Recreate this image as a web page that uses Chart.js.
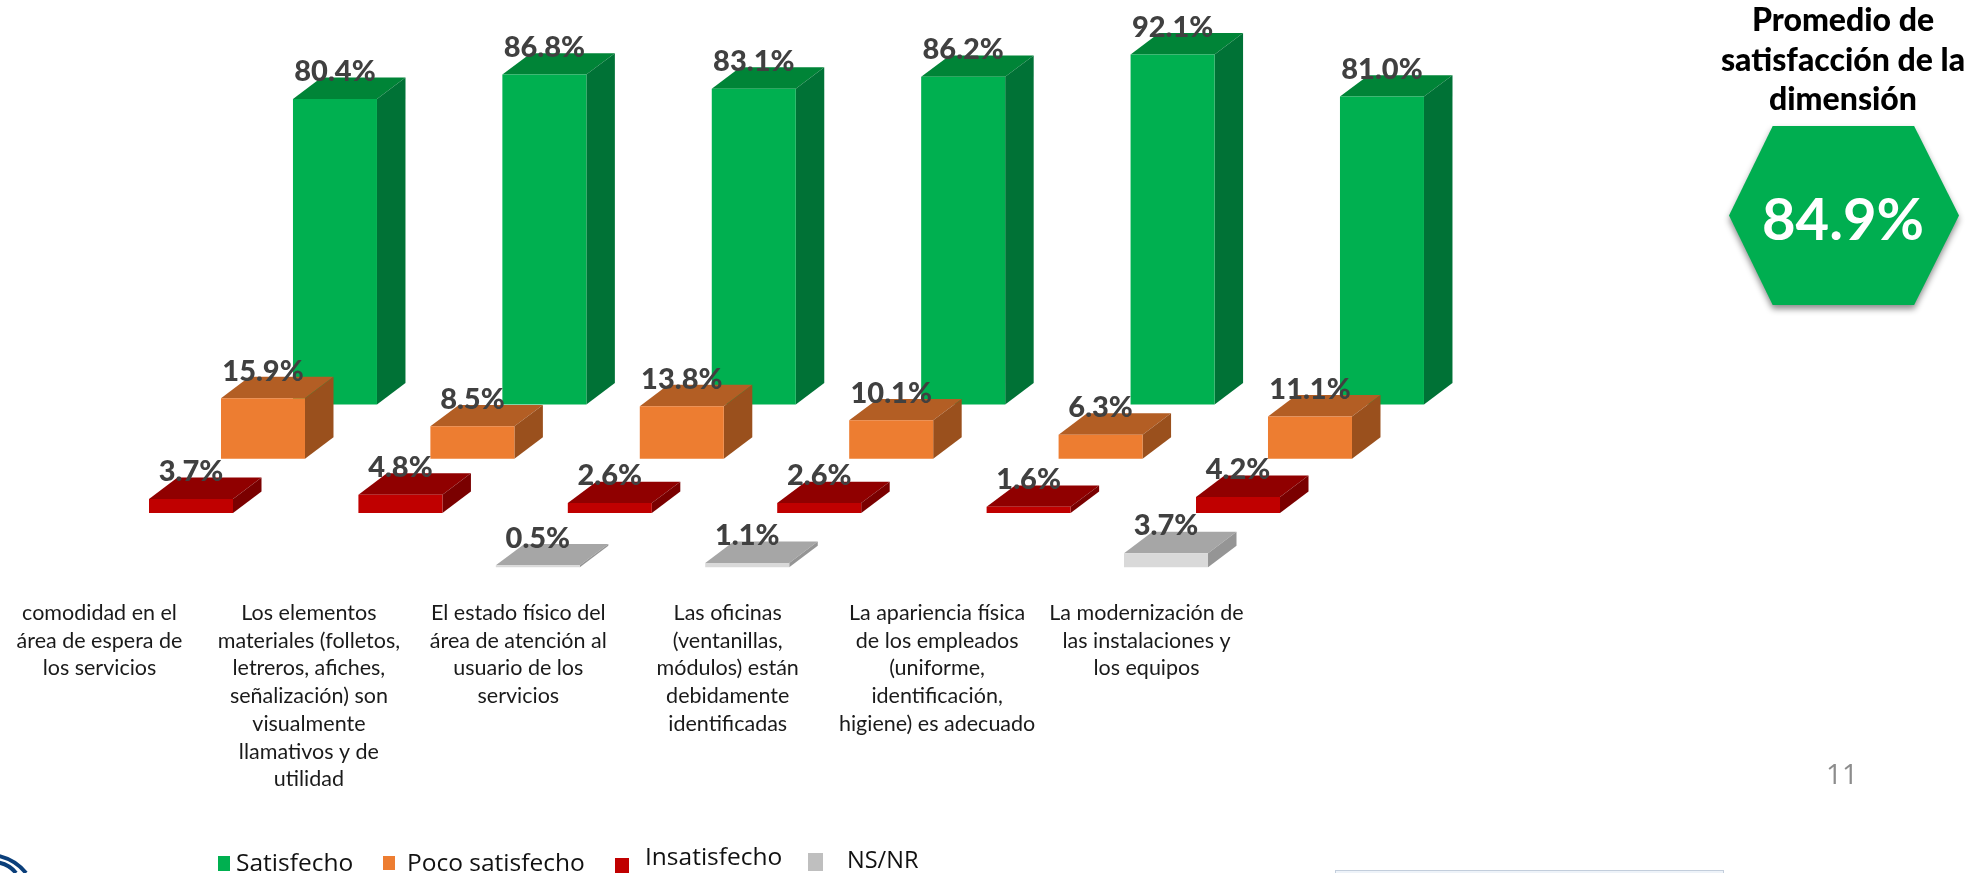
<!DOCTYPE html>
<html lang="es">
<head>
<meta charset="utf-8">
<title>Satisfacción de la dimensión</title>
<script src="https://cdn.jsdelivr.net/npm/chart.js@4/dist/chart.umd.min.js"></script>
<style>
    html, body { margin: 0; padding: 0; background: #fff; }
    #page { position: relative; width: 1974px; height: 873px; overflow: hidden; font-family: Lato, sans-serif; }
    #chart { position: absolute; left: 0; top: 0; }
    .swatch { position: absolute; }
    .legend-text { position: absolute; white-space: nowrap; font-family: "Open Sans", sans-serif; font-size: 24.5px; line-height: 26px; color: #111; }
    #panelTitle { position: absolute; left: 1693px; top: -1px; width: 300px; text-align: center; font: 900 32px/39.5px Lato, sans-serif; color: #000; }
    #hexWrap { position: absolute; left: 1729px; top: 126px; width: 230px; height: 179px; filter: drop-shadow(0 4px 3px rgba(0,0,0,0.45)); }
    #hex { width: 230px; height: 179px; background: #00ae50; clip-path: polygon(0 50%, 19% 0, 80.5% 0, 100% 50%, 80.5% 100%, 19% 100%); }
    #hexValue { position: absolute; left: 0; width: 228px; top: 2px; height: 179px; text-align: center; font: 700 58px/179px Lato, sans-serif; color: #fff; }
    #pageNum { position: absolute; left: 1822px; top: 755px; width: 40px; text-align: center; font: 400 28px/36px "Open Sans", sans-serif; color: #8c8c8c; }
    #footerBox { position: absolute; left: 1335px; top: 870px; width: 387px; height: 6px; background: #eef3f9; border: 1px solid #c3cedc; }
    #logo { position: absolute; left: 0; top: 840px; }
</style>
</head>
<body>
<div id="page">
    <canvas id="chart" width="1974" height="873"></canvas>

    <div id="panelTitle">Promedio de<br>satisfacción de la<br>dimensión</div>
    <div id="hexWrap"><div id="hex"></div><div id="hexValue">84.9%</div></div>

    <div id="pageNum">11</div>

    <div class="swatch" style="left:218px;top:856px;width:12px;height:15px;background:#00b050"></div>
    <div class="legend-text" style="left:236px;top:849px">Satisfecho</div>
    <div class="swatch" style="left:383px;top:856px;width:12px;height:14px;background:#ed7d31"></div>
    <div class="legend-text" style="left:407px;top:849px">Poco satisfecho</div>
    <div class="swatch" style="left:615px;top:858px;width:14px;height:15px;background:#c00000"></div>
    <div class="legend-text" style="left:645px;top:843px">Insatisfecho</div>
    <div class="swatch" style="left:808px;top:853px;width:15px;height:18px;background:#bfbfbf"></div>
    <div class="legend-text" style="left:847px;top:846px;font-size:23.5px">NS/NR</div>

    <div id="footerBox"></div>
    <svg id="logo" width="50" height="33" viewBox="0 0 50 33">
        <path d="M-6 15 Q14 18 26 33" fill="none" stroke="#0b3f7a" stroke-width="4"/>
        <path d="M-6 22 Q8 23 16 33" fill="none" stroke="#0b3f7a" stroke-width="4"/>
    </svg>
</div>

<script>
// Categories of the survey questions (wrapped the way they appear under the bars)
const categories = [
    ['comodidad en el', 'área de espera de', 'los servicios'],
    ['Los elementos', 'materiales (folletos,', 'letreros, afiches,', 'señalización) son', 'visualmente', 'llamativos y de', 'utilidad'],
    ['El estado físico del', 'área de atención al', 'usuario de los', 'servicios'],
    ['Las oficinas', '(ventanillas,', 'módulos) están', 'debidamente', 'identificadas'],
    ['La apariencia física', 'de los empleados', '(uniforme,', 'identificación,', 'higiene) es adecuado'],
    ['La modernización de', 'las instalaciones y', 'los equipos']
];

// Percentages per answer
const satisfecho = [80.4, 86.8, 83.1, 86.2, 92.1, 81.0];
const pocoSatisfecho = [15.9, 8.5, 13.8, 10.1, 6.3, 11.1];
const insatisfecho = [3.7, 4.8, 2.6, 2.6, 1.6, 4.2];
const nsNr = [null, null, 0.5, 1.1, null, 3.7];

// Fake 3D: every series sits on its own floor, stepping towards the viewer
const DEPTH_X = 28.5;
const DEPTH_Y = -21.4;
const AXIS_RANGE = 144;     // percent units across the plot height
const FLOOR_STEP = 14.28;   // floor offset between series, in percent units

function floorAxis(step) {
    return {
        display: false,
        min: -FLOOR_STEP * step,
        max: AXIS_RANGE - FLOOR_STEP * step,
        grid: { display: false }
    };
}

/**
 * Draws the top and side faces of each bar behind its front face
 */
const extrudePlugin = {
    id: 'extrude',
    beforeDatasetDraw(chart, args) {
        const ctx = chart.ctx;
        const dataset = chart.data.datasets[args.index];
        args.meta.data.forEach((bar, i) => {
            if (dataset.data[i] === null) return;
            const { x, y, base, width } = bar.getProps(['x', 'y', 'base', 'width'], true);
            const l = x - width / 2;
            const r = x + width / 2;

            ctx.save();
            ctx.fillStyle = dataset.topColor;
            ctx.beginPath();
            ctx.moveTo(l, y);
            ctx.lineTo(l + DEPTH_X, y + DEPTH_Y);
            ctx.lineTo(r + DEPTH_X, y + DEPTH_Y);
            ctx.lineTo(r, y);
            ctx.closePath();
            ctx.fill();

            ctx.fillStyle = dataset.sideColor;
            ctx.beginPath();
            ctx.moveTo(r, y);
            ctx.lineTo(r + DEPTH_X, y + DEPTH_Y);
            ctx.lineTo(r + DEPTH_X, base + DEPTH_Y);
            ctx.lineTo(r, base);
            ctx.closePath();
            ctx.fill();
            ctx.restore();
        });
    }
};

/**
 * Value labels above the front face of each bar, drawn over all the series
 */
const valueLabelPlugin = {
    id: 'valueLabels',
    afterDatasetsDraw(chart) {
        const ctx = chart.ctx;
        ctx.save();
        ctx.font = '900 29px Lato';
        ctx.fillStyle = '#404040';
        ctx.textAlign = 'center';
        ctx.textBaseline = 'middle';
        chart.data.datasets.forEach((dataset, d) => {
            chart.getDatasetMeta(d).data.forEach((bar, i) => {
                const value = dataset.data[i];
                if (value === null) return;
                const { x, y } = bar.getProps(['x', 'y'], true);
                ctx.fillText(value.toFixed(1) + '%', x, y - 27);
            });
        });
        ctx.restore();
    }
};

new Chart(document.getElementById('chart'), {
    type: 'bar',
    data: {
        labels: categories,
        // first dataset is the leftmost one and is painted last
        datasets: [
            { label: 'NS/NR', data: nsNr, yAxisID: 'yNsNr', clip: false, backgroundColor: '#d9d9d9', topColor: '#a6a6a6', sideColor: '#959595' },
            { label: 'Insatisfecho', data: insatisfecho, yAxisID: 'yInsatisfecho', clip: false, backgroundColor: '#c00000', topColor: '#900000', sideColor: '#7a0000' },
            { label: 'Poco satisfecho', data: pocoSatisfecho, yAxisID: 'yPoco', clip: false, backgroundColor: '#ed7d31', topColor: '#b35e24', sideColor: '#9a501d' },
            { label: 'Satisfecho', data: satisfecho, yAxisID: 'ySatisfecho', clip: false, backgroundColor: '#00b050', topColor: '#008437', sideColor: '#007236' }
        ]
    },
    options: {
        responsive: false,
        animation: false,
        categoryPercentage: 1.375,
        barPercentage: 1.167,
        layout: {
            padding: { left: 122.3, right: 595.3, top: 20, bottom: 85.8 }
        },
        plugins: {
            legend: { display: false },
            tooltip: { enabled: false }
        },
        scales: {
            x: {
                afterFit(scale) { scale.height = 220; },
                grid: { display: false, drawTicks: false },
                border: { display: false },
                ticks: {
                    autoSkip: false,
                    maxRotation: 0,
                    minRotation: 0,
                    padding: 32,
                    labelOffset: -127.5,
                    color: '#1a1a1a',
                    font: { family: 'Lato', size: 21.5, lineHeight: 1.29 }
                }
            },
            yNsNr: floorAxis(0),
            yInsatisfecho: floorAxis(1),
            yPoco: floorAxis(2),
            ySatisfecho: floorAxis(3)
        }
    },
    plugins: [extrudePlugin, valueLabelPlugin]
});
</script>
</body>
</html>
